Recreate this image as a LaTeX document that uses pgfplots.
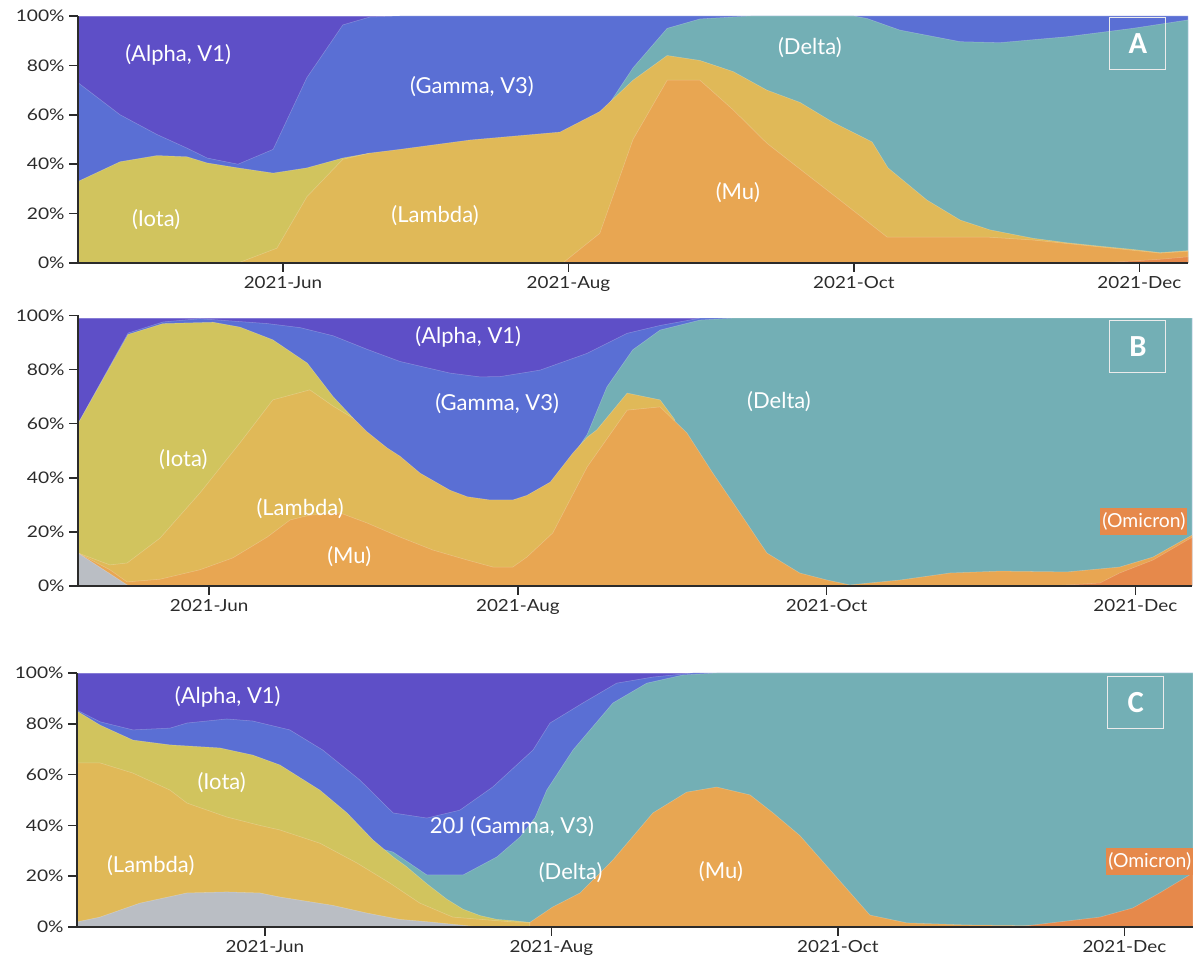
\documentclass[border=0pt]{standalone}
\usepackage{fontspec}
\setmainfont{Lato}
\newfontfamily\boxfont{Carlito}
\newfontfamily\ytickfont[FakeStretch=1.2]{Lato}
\newfontfamily\xtickfont[FakeStretch=1.13]{Lato}
\usepackage{pgfplots}
\pgfplotsset{compat=1.18}
\definecolor{alphaC}{HTML}{5E4FC7}
\definecolor{gammaC}{HTML}{5A6FD4}
\definecolor{deltaC}{HTML}{73AFB5}
\definecolor{iotaC}{HTML}{D1C45E}
\definecolor{lambdaC}{HTML}{E0B958}
\definecolor{muC}{HTML}{E8A652}
\definecolor{omiC}{HTML}{E6894B}
\definecolor{greyC}{HTML}{BABEC4}
\definecolor{axC}{HTML}{2B2B2B}
\pgfplotsset{
  panel/.style={
    scale only axis, anchor=south west,
    axis lines*=left, axis on top,
    ymin=0, ymax=100,
    ytick={0,20,40,60,80,100},
    yticklabels={0\%,20\%,40\%,60\%,80\%,100\%},
    xtick={0,61,122,183},
    xticklabels={2021-Jun,2021-Aug,2021-Oct,2021-Dec},
    tick align=outside,
    major tick length=6.5pt,
    axis line style={line width=1.2pt, color=axC},
    every tick/.style={line width=1.1pt, axC},
    y tick label style={font=\ytickfont\fontsize{12}{14}\selectfont, text=axC},
    x tick label style={font=\xtickfont\fontsize{12.5}{14}\selectfont, text=axC},
  },
  lay/.style={fill=#1, draw=white, draw opacity=0.25, line width=0.4pt},
}
\tikzset{
  lab/.style={text=white, font=\fontsize{16.5}{18}\selectfont, inner sep=0pt},
  pbox/.style={draw=white!92!black, line width=0.8pt, minimum width=42pt, minimum height=39pt, inner sep=0pt, text=white, font=\boxfont\bfseries\fontsize{23}{25}\selectfont},
  obox/.style={fill=omiC, text=white, inner sep=1.5pt, minimum height=20pt, font=\fontsize{14.5}{16}\selectfont},
}
\begin{document}
\begin{tikzpicture}
\path[use as bounding box] (0,0) rectangle (894.75pt,719.25pt);
% ---------------- Panel A ----------------
\begin{axis}[panel, at={(58.5pt,522pt)}, width=832.5pt, height=185.25pt, xmin=-43.8, xmax=193.4]
\addplot[lay=alphaC] coordinates {(-43.8,100) (193.4,100)} \closedcycle;
\addplot[lay=gammaC] coordinates {(-43.8,73) (-34.8,60) (-26.9,52) (-20.5,46.5) (-16.2,42.5) (-9.6,40) (-2.1,46) (5.1,75) (12.8,96.4) (18.6,99.6) (25,100) (193.4,100)} \closedcycle;
\addplot[lay=deltaC] coordinates {(67.7,61.3) (69.2,63) (74.8,79) (82.1,95) (89.1,98.8) (96.2,99.6) (100,100) (122,100) (124.8,99) (131.8,94.3) (144.7,89.6) (153.2,89.2) (167.5,91.6) (181.6,95) (193.4,98.4)} \closedcycle;
\addplot[lay=iotaC] coordinates {(-43.8,33) (-34.8,41) (-26.9,43.5) (-20.5,43) (-16.2,40.5) (-9.6,38.5) (-2.1,36.4) (5.1,38.5) (12.8,42.5) (18.6,44.5)} \closedcycle;
\addplot[lay=lambdaC] coordinates {(-9.6,0) (-1.3,6) (5.1,26.8) (12.8,42) (18.6,44.5) (25,46) (40,49.8) (59.2,53) (67.7,61.3) (74.8,74) (82.1,84) (89.1,82) (96.2,77.5) (103.4,70) (110.5,65) (117.5,57) (125.9,49) (129.3,38.5) (137.6,25.5) (144.7,17.4) (151.1,13.4) (160.3,10) (167.5,8.2) (174.6,6.8) (181.6,5.5) (187.4,4.2) (193.4,5)} \closedcycle;
\addplot[lay=muC] coordinates {(59.8,0) (67.7,12) (74.8,50) (82.1,74) (89.1,74) (96.2,62) (103.4,48.5) (110.5,38) (119,25.5) (129.1,10.5) (150.4,10.5) (160.3,9.3) (174.6,6.5) (187.4,4) (193.4,4.7)} \closedcycle;
\addplot[lay=omiC] coordinates {(174.6,0) (187.4,1.5) (193.4,2.5)} \closedcycle;
\node[lab] at (axis cs:-22.4,84.2) {(Alpha, V1)};
\node[lab] at (axis cs:40.4,71.3) {(Gamma, V3)};
\node[lab] at (axis cs:112.6,87.4) {(Delta)};
\node[lab] at (axis cs:-27.1,17.4) {(Iota)};
\node[lab] at (axis cs:32.5,19.0) {(Lambda)};
\node[lab] at (axis cs:97.2,28.7) {(Mu)};
\node[pbox] at (axis cs:182.7,89) {A};
\end{axis}
% ---------------- Panel B ----------------
\begin{axis}[panel, at={(58.5pt,279.75pt)}, width=835.5pt, height=202.9pt, xmin=-25.9, xmax=194.2]
\addplot[lay=alphaC] coordinates {(-25.9,99) (194.2,99)} \closedcycle;
\addplot[lay=gammaC] coordinates {(-25.9,60) (-16.0,93.5) (-9.1,97.6) (-1.8,98.8) (11.5,97) (18.0,95.5) (24.5,92.5) (31.2,87.5) (37.7,83) (47.6,78.7) (53.5,77.3) (57.5,77.4) (65.4,79.8) (74.7,86) (82.6,93.4) (89.1,96.3) (97.0,99) (194.2,99)} \closedcycle;
\addplot[lay=deltaC] coordinates {(72.9,51) (74.7,56) (78.6,73.6) (83.7,87.3) (89.1,94.6) (97.0,98.3) (103.5,99) (194.2,99)} \closedcycle;
\addplot[lay=iotaC] coordinates {(-25.9,60) (-16.0,93) (-9.1,97) (0.8,97.5) (6.1,95.7) (12.6,91) (19.4,82.4) (24.5,70) (28.5,62)} \closedcycle;
\addplot[lay=lambdaC] coordinates {(-25.9,12.2) (-19.6,7.8) (-16.2,8.5) (-9.7,17.7) (-1.8,34.4) (6.1,52.9) (12.6,68.8) (19.9,72.5) (24.5,66.5) (28.5,62) (31.2,57) (35.2,51) (37.7,48) (41.7,41.7) (47.6,35.4) (51,33) (55.5,31.8) (60.0,31.8) (62.8,33.5) (67.4,38.4) (71.9,49.2) (74.7,55) (76.6,57.7) (82.6,71.3) (89.1,68.8) (92,61.5)} \closedcycle;
\addplot[lay=muC] coordinates {(-25.9,12.2) (-19.6,6) (-16.2,1.5) (-9.7,2.5) (-1.8,6) (4.7,10.4) (11.5,18.1) (16.0,24.4) (19.9,26.2) (25.9,27) (31.2,23.3) (37.7,18.1) (44.2,13.3) (51.0,9.6) (56.1,7) (60.0,7) (62.8,10.7) (67.9,19.6) (74.7,44) (82.6,65) (89.1,66.2) (94.4,56.6) (99.5,41.8) (104.9,27) (110.2,12.2) (116.7,4.8) (122.1,2.2) (126.6,0.4) (136.5,2.2) (146.4,4.8) (156.2,5.5) (169.5,5.2) (179.9,7) (186.5,10.7) (194.2,18.8)} \closedcycle;
\addplot[lay=omiC] coordinates {(166.1,0) (176.0,1.1) (179.9,4.8) (186.5,9.6) (194.2,18)} \closedcycle;
\addplot[lay=greyC] coordinates {(-25.9,12.2) (-16.2,0.4) (-14,0)} \closedcycle;
\node[lab] at (axis cs:51.2,92.1) {(Alpha, V1)};
\node[lab] at (axis cs:56.9,67.3) {(Gamma, V3)};
\node[lab] at (axis cs:112.6,68.0) {(Delta)};
\node[lab] at (axis cs:-5.1,46.6) {(Iota)};
\node[lab] at (axis cs:18.0,28.5) {(Lambda)};
\node[lab] at (axis cs:27.7,10.7) {(Mu)};
\node[obox] at (axis cs:184.7,23.8) {(Omicron)};
\node[pbox] at (axis cs:183.5,88.5) {B};
\end{axis}
% ---------------- Panel C ----------------
\begin{axis}[panel, at={(57.75pt,24pt)}, width=837pt, height=190.5pt, xmin=-40, xmax=197.6]
\addplot[lay=alphaC] coordinates {(-40,100) (197.6,100)} \closedcycle;
\addplot[lay=gammaC] coordinates {(-40,85.4) (-35.1,80.8) (-28.1,77.6) (-20.2,78.3) (-16.6,80.3) (-8.1,81.9) (-2.6,81.1) (5.3,77.6) (12.3,69.7) (20.2,57.9) (27.3,44.9) (34.5,42.9) (41.5,46) (48.5,55.1) (57.1,69.7) (60.7,80.3) (67.7,88.2) (74.9,96) (82.6,98.4) (91.1,100) (197.6,100)} \closedcycle;
\addplot[lay=deltaC] coordinates {(25.5,30.4) (27.3,29.5) (34.5,20.5) (42.2,20.5) (49.4,27.6) (54.3,35.4) (57.5,43) (60.0,53.9) (65.6,69.7) (74.1,88.2) (81.3,96) (89.0,99.2) (96.2,100) (197.6,100)} \closedcycle;
\addplot[lay=iotaC] coordinates {(-40,85) (-35.1,79.5) (-28.1,73.6) (-20.2,71.7) (-9.6,70.5) (-2.6,67.7) (3.2,63.8) (11.7,53.9) (17.5,44.9) (23.0,34.3) (27.3,27.6) (30,24) (34.5,17) (38.7,11) (42.2,7) (45.8,4.5) (49.4,3) (52.8,2.5) (56.4,1.8)} \closedcycle;
\addplot[lay=lambdaC] coordinates {(-40,64.6) (-35.1,64.6) (-28.1,60.6) (-20.2,53.9) (-16.6,48.8) (-8.1,43.3) (-1.1,40) (3.2,38.2) (11.7,33) (19.6,25.2) (26.6,17.3) (33.0,9.4) (40.0,3.9) (47.3,2.8) (52.8,2) (56.4,1.8)} \closedcycle;
\addplot[lay=muC] coordinates {(56.4,1.8) (61.3,7.9) (67.1,13.4) (74.1,26.4) (82.6,44.9) (89.8,53.1) (96.2,55.1) (103.3,52) (108.2,44.9) (113.9,36) (120.9,21.3) (128.8,4.7) (136.7,1.6) (149.5,0.8) (163.5,0.5) (170,0)} \closedcycle;
\addplot[lay=omiC] coordinates {(160,0) (177.8,3.9) (184.8,7.5) (190.5,13.4) (197.6,21.3)} \closedcycle;
\addplot[lay=greyC] coordinates {(-40,2) (-35.1,3.9) (-26.6,9.4) (-16.6,13.4) (-8.1,13.8) (-1.1,13.4) (3.2,11.8) (14.5,8.5) (21.7,5.5) (28.7,3) (35,2) (45.8,0)} \closedcycle;
\node[lab] at (axis cs:-7.9,90.6) {(Alpha, V1)};
\node[lab] at (axis cs:-9.2,56.7) {(Iota)};
\node[lab] at (axis cs:-24.3,24.0) {(Lambda)};
\node[lab] at (axis cs:52.6,39.4) {20J (Gamma, V3)};
\node[lab] at (axis cs:65.1,21.3) {(Delta)};
\node[lab] at (axis cs:97.1,21.7) {(Mu)};
\node[obox] at (axis cs:188.4,25.8) {(Omicron)};
\node[pbox] at (axis cs:185.4,88.2) {C};
\end{axis}
\end{tikzpicture}
\end{document}
